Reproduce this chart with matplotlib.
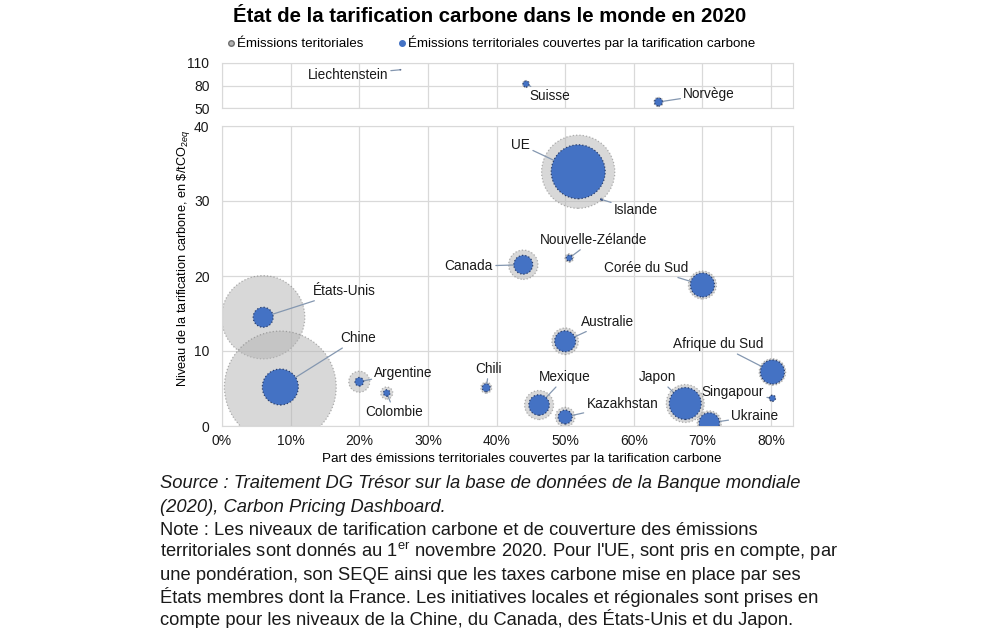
import numpy as np
import matplotlib
matplotlib.use('Agg')
import matplotlib.pyplot as plt
from matplotlib.ticker import PercentFormatter
from matplotlib.lines import Line2D

plt.rcParams['font.family'] = ['Liberation Sans', 'DejaVu Sans']
plt.rcParams['mathtext.fontset'] = 'custom'
plt.rcParams['mathtext.rm'] = 'Liberation Sans'
plt.rcParams['mathtext.it'] = 'Liberation Sans:italic'

# data
pays = ['États-Unis', 'Chine', 'Argentine', 'Colombie', 'Chili', 'Canada', 'UE',
        'Islande', 'Nouvelle-Zélande', 'Corée du Sud', 'Australie', 'Afrique du Sud',
        'Mexique', 'Kazakhstan', 'Japon', 'Singapour', 'Ukraine',
        'Suisse', 'Norvège', 'Liechtenstein']
couverture = [0.06, 0.085, 0.20, 0.24, 0.385, 0.439, 0.519,
              0.553, 0.506, 0.70, 0.50, 0.802,
              0.462, 0.50, 0.675, 0.802, 0.71,
              0.443, 0.636, 0.26]
prix = [14.5, 5.2, 5.9, 4.4, 5.1, 21.5, 33.9,
        30.2, 22.4, 18.8, 11.3, 7.2,
        2.8, 1.2, 3.0, 3.7, 0.4,
        82, 58, 101]
# emissions (MtCO2eq), total and covered
emis_tot = [6600, 11900, 420, 140, 115, 820, 5100,
            5, 70, 745, 670, 670,
            800, 360, 1370, 40, 560,
            45, 80, 0.2]
emis_couv = [380, 1230, 70, 40, 60, 340, 2770,
             3, 35, 550, 420, 550,
             400, 185, 970, 35, 400,
             35, 60, 0.1]

# label placement: (x, y, ha, va)
labels = {
    'États-Unis': (0.133, 18.0, 'left', 'center'),
    'Chine': (0.172, 11.7, 'left', 'center'),
    'Argentine': (0.222, 7.1, 'left', 'center'),
    'Colombie': (0.251, 1.9, 'center', 'center'),
    'Chili': (0.389, 7.6, 'center', 'center'),
    'Canada': (0.395, 21.3, 'right', 'center'),
    'UE': (0.449, 37.5, 'right', 'center'),
    'Islande': (0.571, 28.8, 'left', 'center'),
    'Nouvelle-Zélande': (0.541, 24.8, 'center', 'center'),
    'Corée du Sud': (0.679, 21.1, 'right', 'center'),
    'Australie': (0.523, 13.9, 'left', 'center'),
    'Afrique du Sud': (0.789, 10.9, 'right', 'center'),
    'Mexique': (0.50, 6.5, 'center', 'center'),
    'Kazakhstan': (0.531, 2.9, 'left', 'center'),
    'Japon': (0.662, 6.5, 'right', 'center'),
    'Singapour': (0.79, 4.5, 'right', 'center'),
    'Ukraine': (0.742, 1.3, 'left', 'center'),
    'Suisse': (0.448, 65.7, 'left', 'center'),
    'Norvège': (0.672, 68.3, 'left', 'center'),
    'Liechtenstein': (0.242, 94.4, 'right', 'center'),
}

GRAY = '#b3b3b3'
BLUE = '#4472C4'
LEAD = '#8497b0'
GRID = '#d9d9d9'
K = 0.545  # marker area (pt^2) per MtCO2eq

fig = plt.figure(figsize=(10.06, 6.28), dpi=100)
ax_hi = fig.add_axes([222 / 1006, 1 - 108 / 628, 571 / 1006, 45 / 628])
ax_lo = fig.add_axes([222 / 1006, 1 - 426 / 628, 571 / 1006, 300 / 628])

x = np.array(couverture)
y = np.array(prix)
et = np.array(emis_tot)
ec = np.array(emis_couv)
haut = y > 45

for ax, m in ((ax_hi, haut), (ax_lo, ~haut)):
    ax.scatter(x[m], y[m], s=et[m] * K, color=GRAY, alpha=0.5, edgecolors='#6e6e6e',
               linewidths=0.9, linestyles=':', zorder=2)
    ax.scatter(x[m], y[m], s=ec[m] * K, color=BLUE, edgecolors='#2b3f6b',
               linewidths=0.9, linestyles=':', zorder=4)
    for i in np.where(m)[0]:
        tx, ty, ha, va = labels[pays[i]]
        ax.annotate(pays[i], xy=(x[i], y[i]), xytext=(tx, ty), ha=ha, va=va,
                    fontsize=9.8, color='#1a1a1a', zorder=3,
                    arrowprops=dict(arrowstyle='-', color=LEAD, lw=0.9,
                                    shrinkA=0, shrinkB=0))
    ax.set_xlim(0, 0.832)
    ax.set_xticks(np.arange(0, 0.81, 0.1))
    ax.grid(True, color=GRID, lw=0.9)
    ax.set_axisbelow(True)
    for sp in ax.spines.values():
        sp.set_color(GRID)
    ax.tick_params(length=0, labelsize=10, colors='#1a1a1a')
    ax.tick_params(axis='y', pad=9)
    ax.tick_params(axis='x', pad=6)

ax_hi.set_ylim(50, 110)
ax_hi.set_yticks([50, 80, 110])
ax_hi.tick_params(labelbottom=False)

ax_lo.set_ylim(0, 40)
ax_lo.set_yticks([0, 10, 20, 30, 40])
ax_lo.xaxis.set_major_formatter(PercentFormatter(xmax=1, decimals=0))
fig.text(522 / 1006, 1 - 459 / 628,
         'Part des émissions territoriales couvertes par la tarification carbone',
         ha='center', va='center', fontsize=9.6)
fig.text(183 / 1006, 1 - 258 / 628,
         r'Niveau de la tarification carbone, en \$/tCO$_{2eq}$',
         rotation=90, ha='center', va='center', fontsize=9.2)

fig.text(490 / 1006, 1 - 16 / 628, 'État de la tarification carbone dans le monde en 2020',
         ha='center', va='center', fontsize=14.7, fontweight='bold')

handles = [Line2D([], [], marker='o', ls='', color=GRAY, markeredgecolor='#6e6e6e',
                  markersize=4, label='Émissions teritoriales'),
           Line2D([], [], marker='o', ls='', color=BLUE, markersize=4,
                  label='Émissions territoriales couvertes par la tarification carbone')]
fig.legend(handles=handles, loc='center', bbox_to_anchor=(490 / 1006, 1 - 43 / 628),
           ncol=2, frameon=False, fontsize=9.6, handletextpad=0.05, columnspacing=2.5,
           handlelength=0.8)

notes = [
    ('Source : Traitement DG Trésor sur la base de données de la Banque mondiale', 'italic'),
    ('(2020), Carbon Pricing Dashboard.', 'italic'),
    ('Note : Les niveaux de tarification carbone et de couverture des émissions', 'normal'),
    ("territoriales sont donnés au 1$^{\\mathrm{er}}$ novembre 2020. Pour l'UE, sont pris en compte, par", 'normal'),
    ('une pondération, son SEQE ainsi que les taxes carbone mise en place par ses', 'normal'),
    ('États membres dont la France. Les initiatives locales et régionales sont prises en', 'normal'),
    ('compte pour les niveaux de la Chine, du Canada, des États-Unis et du Japon.', 'normal'),
]
baselines = [488, 512, 535, 557, 580, 603, 625]
for (txt, style), yy in zip(notes, baselines):
    fig.text(160 / 1006, 1 - yy / 628, txt, ha='left', va='baseline', fontsize=13.2,
             style=style, color='#1a1a1a')

fig.savefig('out.png', dpi=100)
